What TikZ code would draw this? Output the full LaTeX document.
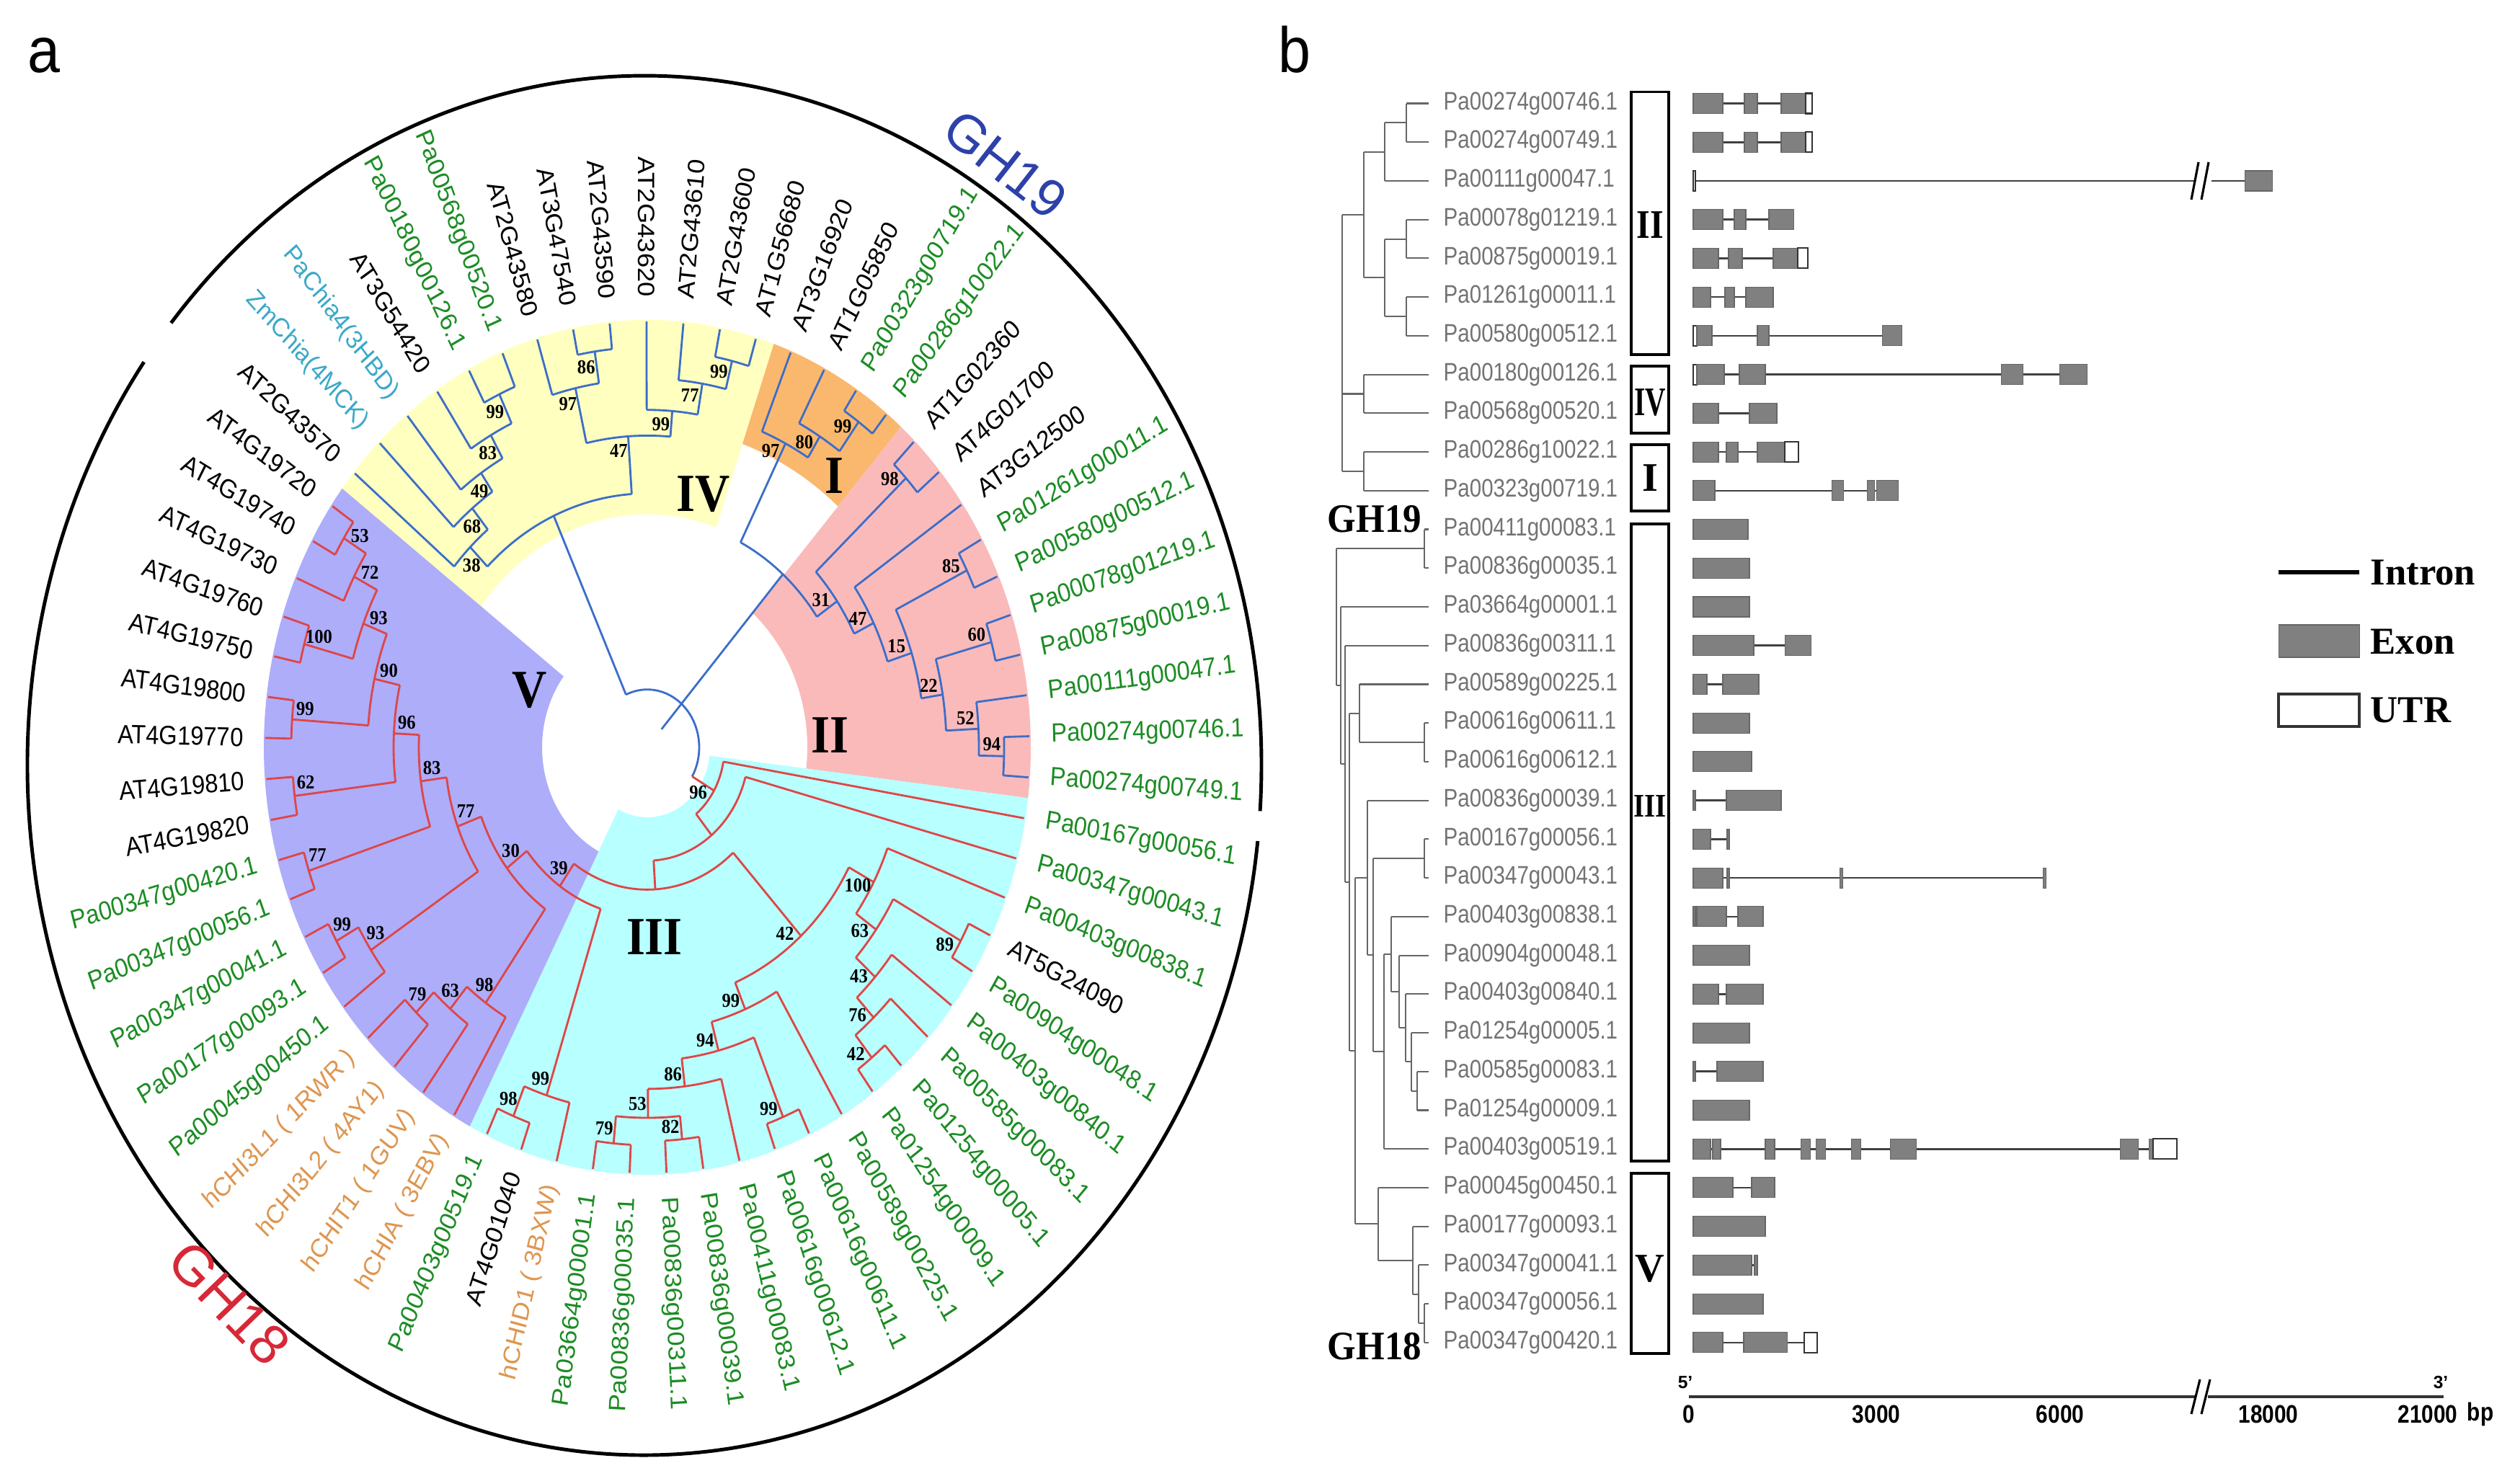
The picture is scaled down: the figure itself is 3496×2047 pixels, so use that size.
\documentclass[tikz,border=0pt]{standalone}
\usepackage{fontspec}
\setmainfont{Liberation Sans}
\newfontfamily\tnr{Liberation Serif}
\usepackage{graphicx}
\definecolor{cIV}{RGB}{255,255,192}
\definecolor{cI}{RGB}{250,184,110}
\definecolor{cII}{RGB}{250,186,186}
\definecolor{cIII}{RGB}{184,255,255}
\definecolor{cV}{RGB}{173,173,250}
\definecolor{gblue}{RGB}{60,110,200}
\definecolor{gred}{RGB}{222,70,70}
\definecolor{lgreen}{RGB}{28,140,36}
\definecolor{lcyan}{RGB}{60,168,200}
\definecolor{lorange}{RGB}{222,150,80}
\definecolor{ghblue}{RGB}{45,65,170}
\definecolor{ghred}{RGB}{215,40,55}
% angle of leaf index k (leaf AT2G43570 = 0)
\newcommand\angk[1]{(1.5+(25-(#1))*5.53846)}
% clade: radius, p1, r1, p2, r2
\newcommand\clade[5]{%
  \draw ({\angk{#2}}:#1) arc[start angle={\angk{#2}}, end angle={\angk{#4}}, radius=#1];
  \draw ({\angk{#2}}:#1) -- ({\angk{#2}}:#3);
  \draw ({\angk{#4}}:#1) -- ({\angk{#4}}:#5);}
\newcommand\bsp[3]{\node[bsl] at ({\angk{#1}+860/#2}:{#2-17}) {#3};}
\newcommand\bsm[3]{\node[bsl] at ({\angk{#1}-860/#2}:{#2-17}) {#3};}
\newcommand\sector[5]{\fill[#1] ({#2}:#4) arc[start angle={#2}, end angle={#3}, radius=#4] -- ({#3}:#5) arc[start angle={#3}, end angle={#2}, radius=#5] -- cycle;}
% panel b
\newcommand\RY[1]{(-143.5-((#1)-1)*53.73)}
\newcommand\bcl[5]{%
  \draw[btree] (#1,{\RY{#2}}) -- (#1,{\RY{#4}});
  \draw[btree] (#1,{\RY{#2}}) -- (#3,{\RY{#2}});
  \draw[btree] (#1,{\RY{#4}}) -- (#5,{\RY{#4}});}
\newcommand\intr[3]{\draw[intron] (#2,{\RY{#1}}) -- (#3,{\RY{#1}});}
\newcommand\exon[3]{\filldraw[exon] (#2,{\RY{#1}+14}) rectangle (#3,{\RY{#1}-14});}
\newcommand\utrx[3]{\filldraw[utrb] (#2,{\RY{#1}+14}) rectangle (#3,{\RY{#1}-14});}
\tikzset{
 lab/.style={font=\fontsize{9.3}{11}\selectfont, inner sep=0pt},
 bsl/.style={font=\tnr\bfseries\fontsize{7}{8}\selectfont, inner sep=0pt},
 rom/.style={font=\tnr\bfseries\fontsize{19}{22}\selectfont, inner sep=0pt},
 btree/.style={line width=0.6pt, draw=black!60},
 intron/.style={line width=0.75pt, draw=black!75},
 exon/.style={fill=black!50, draw=black!60, line width=0.3pt},
 utrb/.style={fill=white, draw=black!80, line width=0.6pt},
 glab/.style={font=\fontsize{10}{12}\selectfont, text=black!55, inner sep=0pt, anchor=west},
 gbox/.style={draw=black, line width=0.9pt, fill=white},
 legt/.style={font=\tnr\bfseries\fontsize{15}{18}\selectfont, anchor=west, inner sep=0pt},
 axl/.style={font=\bfseries\fontsize{10}{12}\selectfont, inner sep=0pt},
}
\begin{document}
\begin{tikzpicture}[x=0.01cm,y=0.01cm]
\useasboundingbox (0,0) rectangle (3496,-2047);
\fill[white] (0,0) rectangle (3496,-2047);

% ---------------- panel a ----------------
\node[font=\fontsize{23}{26}\selectfont, anchor=base west, inner sep=0pt, yscale=1.1] (pa) at (38,-100) {a};
\node[font=\fontsize{23}{26}\selectfont, anchor=base west, inner sep=0pt, yscale=1.1] (pb) at (1773,-100) {b};

\draw[line width=1.4pt] (894,-1062) ++(-3.8:856 and 957) arc[start angle=-3.8, end angle=140.1, x radius=856, y radius=957];
\draw[line width=1.4pt] (894,-1062) ++(144.2:856 and 957) arc[start angle=144.2, end angle=353.7, x radius=856, y radius=957];
\node[font=\fontsize{21}{24}\selectfont, text=ghblue, rotate=-38] (gh19) at (1395,-228) {GH19};
\node[font=\fontsize{22}{25}\selectfont, text=ghred, rotate=-46] (gh18) at (318,-1808) {GH18};

\begin{scope}[shift={(898,-1037)}, yscale=1.115, transform shape]
\sector{cIV}{70.73}{142.73}{290}{532}
\sector{cI}{48.58}{70.73}{400}{532}
\sector{cII}{-6.81}{48.58}{222}{532}
\sector{cIII}{-117.58}{-6.81}{87}{532}
\sector{cV}{-217.27}{-117.58}{146}{532}

\begin{scope}[gblue, line width=0.8pt]
\clade{485}{4}{530}{5}{530}
\clade{445}{3}{530}{4.5}{485}
\clade{412}{2}{530}{3.75}{445}
\clade{384}{1}{530}{2.875}{412}
\clade{350}{0}{530}{1.9375}{384}
\clade{498}{7}{530}{8}{530}
\clade{458}{6}{530}{7.5}{498}
\clade{495}{11}{530}{12}{530}
\clade{459}{10}{530}{11.5}{495}
\clade{420}{9}{530}{10.75}{459}
\clade{388}{6.75}{458}{9.875}{420}
\clade{316}{0.96875}{350}{8.3125}{388}
\clade{500}{15}{530}{16}{530}
\clade{455}{14}{530}{15.5}{500}
\clade{424}{13}{530}{14.75}{455}
\clade{491}{17}{530}{18}{530}
\clade{495}{25}{530}{26}{530}
\clade{460}{24}{530}{25.5}{495}
\clade{495}{22}{530}{23}{530}
\clade{415}{22.5}{495}{24.75}{460}
\clade{495}{20}{530}{21}{530}
\clade{385}{20.5}{495}{23.625}{415}
\clade{350}{19}{530}{22.0625}{385}
\clade{320}{17.5}{491}{20.53125}{350}
\clade{286}{13.875}{424}{19.015625}{320}
\draw ({\angk{4.640625}}:72) arc[start angle={\angk{4.640625}}, end angle={\angk{30.719}}, radius=72];
\draw ({\angk{4.640625}}:72) -- ({\angk{4.640625}}:316);
\draw ({\angk{16.4453}}:30) -- ({\angk{16.4453}}:286);
\end{scope}

\begin{scope}[gred, line width=0.8pt]
\clade{490}{40}{530}{41}{530}
\clade{495}{42}{530}{43}{530}
\clade{461}{40.5}{490}{42.5}{495}
\clade{425}{39}{530}{41.5}{461}
\clade{497}{37}{530}{38}{530}
\clade{390}{37.5}{497}{40.25}{425}
\clade{353}{36}{530}{38.875}{390}
\clade{496}{34}{530}{35}{530}
\clade{460}{33}{530}{34.5}{496}
\clade{426}{32}{530}{33.75}{460}
\clade{497}{30}{530}{31}{530}
\clade{390}{30.5}{497}{32.875}{426}
\clade{356}{29}{530}{31.6875}{390}
\clade{317}{30.34375}{356}{37.4375}{353}
\clade{495}{45}{530}{46}{530}
\clade{455}{44}{530}{45.5}{495}
\clade{460}{49}{530}{50}{530}
\clade{425}{48}{530}{49.5}{460}
\clade{389}{47}{530}{48.75}{425}
\clade{494}{52}{530}{53}{530}
\clade{459}{51}{530}{52.5}{494}
\clade{494}{54}{530}{55}{530}
\clade{493}{56}{530}{57}{530}
\clade{494}{58}{530}{59}{530}
\clade{493}{60}{530}{61}{530}
\clade{495}{63}{530}{64}{530}
\clade{459}{62}{530}{63.5}{495}
\clade{423}{60.5}{493}{62.75}{459}
\clade{388}{58.5}{494}{61.625}{423}
\clade{352}{56.5}{493}{60.0625}{388}
\clade{317}{54.5}{494}{58.28125}{352}
\clade{281}{51.75}{459}{56.390625}{317}
\clade{246}{47.875}{389}{54.0703}{281}
\clade{211}{44.75}{455}{50.9727}{246}
\clade{177}{33.890625}{317}{47.8613}{211}
\clade{141}{28}{530}{40.876}{177}
\clade{107}{27}{530}{34.438}{141}
\draw ({\angk{30.719}}:72) -- ({\angk{30.719}}:107);
\end{scope}

% bootstrap values
\bsp{4.5}{485}{99} \bsp{3.75}{445}{83} \bsp{2.875}{412}{49} \bsp{1.9375}{384}{68}
\bsp{0.96875}{350}{38} \bsp{7.5}{498}{86} \bsp{6.75}{458}{97} \bsp{11.5}{495}{99}
\bsp{10.75}{459}{77} \bsp{9.875}{420}{99} \bsp{8.3125}{388}{47} \bsp{15.5}{500}{99}
\bsp{14.75}{455}{80} \bsp{13.875}{424}{97} \bsp{17.5}{491}{98} \bsp{25.5}{495}{94}
\bsp{24.75}{460}{52} \bsp{22.5}{495}{60} \bsp{23.625}{415}{22} \bsp{20.5}{495}{85}
\bsp{22.0625}{385}{15} \bsp{20.53125}{350}{47} \bsp{19.015625}{320}{31}
\bsm{40.5}{490}{82} \bsm{42.5}{495}{79} \bsm{41.5}{461}{53} \bsm{40.25}{425}{86}
\bsm{37.5}{497}{99} \bsm{38.875}{390}{94} \bsm{37.4375}{353}{99} \bsm{34.5}{496}{42}
\bsm{33.75}{460}{76} \bsm{32.875}{426}{43} \bsm{30.5}{497}{89} \bsm{31.6875}{390}{63}
\bsm{30.34375}{356}{100} \bsm{33.890625}{317}{42} \bsm{45.5}{495}{98} \bsm{44.75}{455}{99}
\bsm{49.5}{460}{79} \bsm{48.75}{425}{63} \bsm{47.875}{389}{98} \bsm{52.5}{494}{99}
\bsm{51.75}{459}{93} \bsm{54.5}{494}{77} \bsm{56.5}{493}{62} \bsm{58.5}{494}{99}
\bsm{60.5}{493}{100} \bsm{63.5}{495}{53} \bsm{62.75}{459}{72} \bsm{61.625}{423}{93}
\bsm{60.0625}{388}{90} \bsm{58.28125}{352}{96} \bsm{56.390625}{317}{83} \bsm{54.0703}{281}{77}
\bsm{50.9727}{246}{30} \bsm{47.8613}{211}{39} \bsm{30.719}{107}{96}

% clade numerals
\node[rom] (nIV) at (78,315) {IV};
\node[rom] (nI) at (259,338) {I};
\node[rom] (nII) at (253,15) {II};
\node[rom] (nIII) at (10,-236) {III};
\node[rom] (nV) at (-163,71) {V};

% leaf labels
\foreach \k/\t/\c in {0/AT2G43570/black, 1/ZmChia(4MCK)/lcyan, 2/PaChia4(3HBD)/lcyan,
 3/AT3G54420/black, 4/Pa00180g00126.1/lgreen, 5/Pa00568g00520.1/lgreen,
 6/AT2G43580/black, 7/AT3G47540/black, 8/AT2G43590/black, 9/AT2G43620/black,
 10/AT2G43610/black, 11/AT2G43600/black, 12/AT1G56680/black, 13/AT3G16920/black,
 14/AT1G05850/black, 15/Pa00323g00719.1/lgreen, 16/Pa00286g10022.1/lgreen,
 17/AT1G02360/black, 18/AT4G01700/black, 19/AT3G12500/black,
 20/Pa01261g00011.1/lgreen, 21/Pa00580g00512.1/lgreen, 22/Pa00078g01219.1/lgreen,
 23/Pa00875g00019.1/lgreen, 24/Pa00111g00047.1/lgreen, 25/Pa00274g00746.1/lgreen,
 26/Pa00274g00749.1/lgreen, 27/Pa00167g00056.1/lgreen, 28/Pa00347g00043.1/lgreen,
 29/Pa00403g00838.1/lgreen, 30/AT5G24090/black, 31/Pa00904g00048.1/lgreen,
 32/Pa00403g00840.1/lgreen, 33/Pa00585g00083.1/lgreen, 34/Pa01254g00005.1/lgreen,
 35/Pa01254g00009.1/lgreen, 36/Pa00589g00225.1/lgreen, 37/Pa00616g00611.1/lgreen,
 38/Pa00616g00612.1/lgreen, 39/Pa00411g00083.1/lgreen, 40/Pa00836g00039.1/lgreen,
 41/Pa00836g00311.1/lgreen, 42/Pa00836g00035.1/lgreen, 43/Pa03664g00001.1/lgreen,
 44/hCHID1 ( 3BXW)/lorange, 45/AT4G01040/black, 46/Pa00403g00519.1/lgreen,
 47/hCHIA ( 3EBV)/lorange, 48/hCHIT1 ( 1GUV)/lorange, 49/hCHI3L2 ( 4AY1)/lorange,
 50/hCHI3L1 ( 1RWR )/lorange, 51/Pa00045g00450.1/lgreen, 52/Pa00177g00093.1/lgreen,
 53/Pa00347g00041.1/lgreen, 54/Pa00347g00056.1/lgreen, 55/Pa00347g00420.1/lgreen,
 56/AT4G19820/black, 57/AT4G19810/black, 58/AT4G19770/black, 59/AT4G19800/black,
 60/AT4G19750/black, 61/AT4G19760/black, 62/AT4G19730/black, 63/AT4G19740/black,
 64/AT4G19720/black}{
  \pgfmathsetmacro\a{1.5+(25-\k)*5.53846}
  \pgfmathsetmacro\ca{cos(\a)}
  \ifdim\ca pt<0pt
    \node[lab,text=\c,rotate=\a+180,anchor=east] at (\a:560) {\t};
  \else
    \node[lab,text=\c,rotate=\a,anchor=west] at (\a:560) {\t};
  \fi
}
\end{scope}

% ---------------- panel b ----------------
% tree GH19
\bcl{1951}{1}{1982}{2}{1982}
\bcl{1921}{1.5}{1951}{3}{1982}
\bcl{1951}{4}{1982}{5}{1982}
\bcl{1951}{6}{1982}{7}{1982}
\bcl{1921}{4.5}{1951}{6.5}{1951}
\bcl{1892}{2.25}{1921}{5.5}{1921}
\bcl{1892}{8}{1982}{9}{1982}
\bcl{1892}{10}{1982}{11}{1982}
\bcl{1862}{3.875}{1892}{10.5}{1892}
\draw[btree] (1862,{\RY{8.5}}) -- (1892,{\RY{8.5}});
% tree GH18
\bcl{1976}{12}{1982}{13}{1982}
\bcl{1966}{26}{1982}{27}{1982}
\bcl{1958}{25}{1982}{26.5}{1966}
\bcl{1950}{24}{1982}{25.75}{1958}
\bcl{1941}{23}{1982}{24.875}{1950}
\bcl{1930}{22}{1982}{23.9375}{1941}
\bcl{1920}{22.96875}{1930}{28}{1982}
\bcl{1976}{20}{1982}{21}{1982}
\bcl{1905}{20.5}{1976}{25.484}{1920}
\bcl{1897}{19}{1982}{22.992}{1905}
\bcl{1976}{32}{1982}{33}{1982}
\bcl{1968}{31}{1982}{32.5}{1976}
\bcl{1960}{30}{1982}{31.75}{1968}
\bcl{1912}{29}{1982}{30.875}{1960}
\bcl{1880}{20.996}{1897}{29.9375}{1912}
\bcl{1976}{17}{1982}{18}{1982}
\bcl{1886}{16}{1982}{17.5}{1976}
\bcl{1872}{16.75}{1886}{25.467}{1880}
\bcl{1866}{15}{1982}{21.108}{1872}
\bcl{1860}{14}{1982}{18.054}{1866}
\bcl{1854}{12.5}{1976}{16.027}{1860}
\node[font=\tnr\bfseries\fontsize{14.5}{17}\selectfont, yscale=1.1, inner sep=0pt] (bgh19) at (1907,-720) {GH19};
\node[font=\tnr\bfseries\fontsize{14.5}{17}\selectfont, yscale=1.1, inner sep=0pt] (bgh18) at (1907,-1868) {GH18};

% gene labels
\foreach \k/\t in {1/Pa00274g00746.1, 2/Pa00274g00749.1, 3/Pa00111g00047.1, 4/Pa00078g01219.1,
 5/Pa00875g00019.1, 6/Pa01261g00011.1, 7/Pa00580g00512.1, 8/Pa00180g00126.1,
 9/Pa00568g00520.1, 10/Pa00286g10022.1, 11/Pa00323g00719.1, 12/Pa00411g00083.1,
 13/Pa00836g00035.1, 14/Pa03664g00001.1, 15/Pa00836g00311.1, 16/Pa00589g00225.1,
 17/Pa00616g00611.1, 18/Pa00616g00612.1, 19/Pa00836g00039.1, 20/Pa00167g00056.1,
 21/Pa00347g00043.1, 22/Pa00403g00838.1, 23/Pa00904g00048.1, 24/Pa00403g00840.1,
 25/Pa01254g00005.1, 26/Pa00585g00083.1, 27/Pa01254g00009.1, 28/Pa00403g00519.1,
 29/Pa00045g00450.1, 30/Pa00177g00093.1, 31/Pa00347g00041.1, 32/Pa00347g00056.1,
 33/Pa00347g00420.1}{
  \node[glab] at (2002,{\RY{\k}}) {\scalebox{0.84}[1]{\t}};
}

% group boxes
\draw[gbox] (2263,-127.5) rectangle (2315,-492);
\draw[gbox] (2263,-508) rectangle (2315,-601);
\draw[gbox] (2263,-617) rectangle (2315,-709);
\draw[gbox] (2263,-727) rectangle (2315,-1611);
\draw[gbox] (2263,-1628) rectangle (2315,-1878);
\node[font=\tnr\bfseries\fontsize{16}{18}\selectfont, inner sep=0pt] (bII) at (2289,-312) {\scalebox{0.85}[1]{II}};
\node[font=\tnr\bfseries\fontsize{16}{18}\selectfont, inner sep=0pt] (bIV) at (2289,-558) {\scalebox{0.7}[1]{IV}};
\node[font=\tnr\bfseries\fontsize{16}{18}\selectfont, inner sep=0pt] (bI) at (2289,-663) {I};
\node[font=\tnr\bfseries\fontsize{13}{15}\selectfont, inner sep=0pt] (bIII) at (2289,-1119) {\scalebox{0.85}[1]{III}};
\node[font=\tnr\bfseries\fontsize{16}{18}\selectfont, inner sep=0pt] (bV) at (2289,-1760) {V};

% gene structures
\intr{1}{2349}{2514} \exon{1}{2349}{2390} \exon{1}{2420}{2438} \exon{1}{2471}{2505} \utrx{1}{2505}{2514}
\intr{2}{2349}{2514} \exon{2}{2349}{2390} \exon{2}{2420}{2438} \exon{2}{2471}{2505} \utrx{2}{2505}{2514}
\intr{3}{2350}{3044} \intr{3}{3068}{3114} \utrx{3}{2349}{2352} \exon{3}{3114}{3152}
\draw[line width=0.9pt] (3040,{\RY{3}-26}) -- (3050,{\RY{3}+26});
\draw[line width=0.9pt] (3054,{\RY{3}-26}) -- (3064,{\RY{3}+26});
\intr{4}{2349}{2488} \exon{4}{2349}{2390} \exon{4}{2406}{2422} \exon{4}{2454}{2488}
\intr{5}{2349}{2508} \exon{5}{2349}{2384} \exon{5}{2398}{2417} \exon{5}{2460}{2494} \utrx{5}{2494}{2508}
\intr{6}{2349}{2460} \exon{6}{2349}{2373} \exon{6}{2393}{2406} \exon{6}{2422}{2460}
\intr{7}{2349}{2638} \utrx{7}{2349}{2354} \exon{7}{2354}{2375} \exon{7}{2438}{2454} \exon{7}{2611}{2638}
\intr{8}{2349}{2895} \utrx{8}{2349}{2354} \exon{8}{2354}{2392} \exon{8}{2413}{2449} \exon{8}{2776}{2806} \exon{8}{2857}{2895}
\intr{9}{2349}{2465} \exon{9}{2349}{2384} \exon{9}{2427}{2465}
\intr{10}{2349}{2495} \exon{10}{2349}{2384} \exon{10}{2395}{2411} \exon{10}{2438}{2476} \utrx{10}{2476}{2495}
\intr{11}{2349}{2633} \exon{11}{2349}{2379} \exon{11}{2541}{2557} \exon{11}{2590}{2600} \exon{11}{2603}{2633}
\exon{12}{2349}{2425}
\exon{13}{2349}{2427}
\exon{14}{2349}{2427}
\intr{15}{2349}{2512} \exon{15}{2349}{2433} \exon{15}{2476}{2512}
\intr{16}{2349}{2440} \exon{16}{2349}{2368} \exon{16}{2390}{2440}
\exon{17}{2349}{2427}
\exon{18}{2349}{2430}
\intr{19}{2349}{2395} \exon{19}{2349}{2352} \exon{19}{2395}{2471}
\intr{20}{2349}{2399} \exon{20}{2349}{2373} \exon{20}{2396}{2399}
\intr{21}{2349}{2838} \exon{21}{2349}{2390} \exon{21}{2396}{2399} \exon{21}{2552}{2556} \exon{21}{2834}{2838}
\intr{22}{2349}{2446} \exon{22}{2349}{2352} \exon{22}{2354}{2395} \exon{22}{2411}{2446}
\exon{23}{2349}{2427}
\intr{24}{2349}{2446} \exon{24}{2349}{2384} \exon{24}{2395}{2446}
\exon{25}{2349}{2427}
\intr{26}{2349}{2446} \exon{26}{2349}{2352} \exon{26}{2382}{2446}
\exon{27}{2349}{2427}
\intr{28}{2349}{3020} \exon{28}{2349}{2373} \exon{28}{2376}{2387} \exon{28}{2449}{2462} \exon{28}{2498}{2511} \exon{28}{2519}{2532} \exon{28}{2568}{2581} \exon{28}{2622}{2658} \exon{28}{2941}{2966} \exon{28}{2981}{2987} \utrx{28}{2987}{3020}
\intr{29}{2349}{2462} \exon{29}{2349}{2404} \exon{29}{2430}{2462}
\exon{30}{2349}{2449}
\intr{31}{2349}{2438} \exon{31}{2349}{2430} \exon{31}{2434}{2438}
\exon{32}{2349}{2446}
\intr{33}{2349}{2521} \exon{33}{2349}{2390} \exon{33}{2419}{2479} \utrx{33}{2503}{2521}

% legend
\draw[line width=1.5pt] (3161,-794) -- (3273,-794);
\node[legt] (lin) at (3288,-794) {Intron};
\filldraw[exon] (3161,-867) rectangle (3273,-912);
\node[legt] (lex) at (3288,-890) {Exon};
\filldraw[utrb, line width=1pt] (3161,-963) rectangle (3273,-1008);
\node[legt] (lut) at (3288,-985) {UTR};

% axis
\draw[line width=1.2pt, black!80] (2343,-1938) -- (3047,-1938);
\draw[line width=1.2pt, black!80] (3063,-1938) -- (3390,-1938);
\draw[line width=0.9pt] (3040,-1962) -- (3052,-1914);
\draw[line width=0.9pt] (3054,-1962) -- (3066,-1914);
\node[font=\bfseries\fontsize{7}{8}\selectfont, inner sep=0pt] (p5) at (2338,-1918) {5'};
\node[font=\bfseries\fontsize{7}{8}\selectfont, inner sep=0pt] (p3) at (3386,-1918) {3'};
\node[axl] (t0) at (2343,-1962) {\scalebox{0.85}[1]{0}};
\node[axl] (t3) at (2603,-1962) {\scalebox{0.85}[1]{3000}};
\node[axl] (t6) at (2858,-1962) {\scalebox{0.85}[1]{6000}};
\node[axl] (t18) at (3147,-1962) {\scalebox{0.85}[1]{18000}};
\node[axl] (t21) at (3368,-1962) {\scalebox{0.85}[1]{21000}};
\node[axl] (tbp) at (3441,-1962) {\scalebox{0.85}[1]{bp}};
\end{tikzpicture}
\end{document}
